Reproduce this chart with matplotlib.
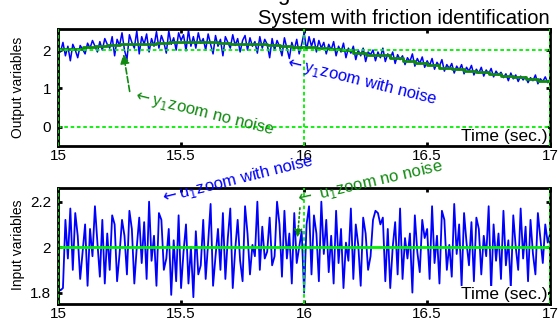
import numpy as np
import matplotlib
matplotlib.use("Agg")
import matplotlib.pyplot as plt

plt.rcParams['font.family'] = ['Liberation Sans', 'DejaVu Sans']

# noisy output y1 (sampled every 0.01 s from 15 to 17)
y_noise = [
    2.05, 1.95, 2.20, 1.85, 2.10, 1.72, 2.15, 2.00, 1.80, 2.12,
    2.02, 1.90, 2.18, 2.05, 2.25, 2.10, 1.95, 2.22, 2.00, 2.30,
    2.15, 2.05, 2.35, 1.85, 2.28, 2.12, 2.45, 2.00, 1.75, 2.40,
    2.20, 2.05, 2.50, 1.90, 2.35, 2.15, 2.42, 1.95, 2.30, 2.10,
    2.48, 2.05, 2.38, 2.20, 1.92, 2.50, 2.15, 2.32, 2.00, 2.45,
    2.25, 2.40, 1.98, 2.52, 2.10, 2.35, 2.05, 2.45, 2.18, 2.30,
    2.00, 2.42, 2.15, 1.90, 2.38, 2.10, 2.28, 1.85, 2.35, 2.20,
    2.05, 2.40, 2.12, 2.30, 1.95, 2.25, 2.38, 2.00, 2.32, 2.10,
    2.22, 1.92, 2.35, 2.05, 2.28, 2.15, 1.80, 2.30, 2.00, 2.25,
    2.10, 1.85, 2.32, 2.05, 1.78, 2.20, 2.00, 2.28, 1.90, 2.15,
    2.45, 2.00, 2.35, 2.10, 2.30, 1.95, 2.25, 2.05, 2.20, 1.90,
    2.15, 2.00, 2.22, 1.85, 2.10, 1.95, 2.18, 1.80, 2.05, 1.92,
    2.10, 1.75, 2.00, 1.85, 2.05, 1.70, 1.95, 1.88, 2.00, 1.72,
    1.95, 1.80, 2.05, 1.70, 1.90, 1.78, 1.95, 1.65, 1.88, 1.75,
    1.85, 1.62, 1.80, 1.70, 1.90, 1.58, 1.78, 1.65, 1.82, 1.55,
    1.72, 1.60, 1.78, 1.50, 1.68, 1.58, 1.75, 1.45, 1.62, 1.52,
    1.65, 1.40, 1.58, 1.48, 1.62, 1.38, 1.55, 1.45, 1.60, 1.35,
    1.50, 1.40, 1.55, 1.32, 1.48, 1.38, 1.52, 1.30, 1.45, 1.35,
    1.42, 1.28, 1.38, 1.20, 1.40, 1.25, 1.35, 1.18, 1.32, 1.22,
    1.30, 1.15, 1.28, 1.20, 1.35, 1.12, 1.25, 1.18, 1.30, 1.15,
    1.25,
]

# noise free output y1 (every 0.05 s)
y_clean = [
    2.02, 2.04, 2.08, 2.10, 2.14, 2.15, 2.15, 2.16, 2.18, 2.20,
    2.20, 2.20, 2.20, 2.18, 2.15, 2.15, 2.15, 2.13, 2.10, 2.08,
    2.08, 2.06, 2.04, 2.00, 1.93, 1.88, 1.86, 1.80, 1.72, 1.66,
    1.60, 1.54, 1.50, 1.45, 1.42, 1.38, 1.33, 1.30, 1.24, 1.20,
    1.16,
]

# noisy input u1
u_noise = [
    1.82, 1.81, 1.82, 2.12, 1.95, 2.17, 1.90, 2.15, 2.05, 1.86,
    1.98, 2.10, 1.83, 2.08, 1.96, 2.18, 2.02, 1.87, 2.12, 1.84,
    2.06, 1.90, 2.14, 2.10, 1.85, 1.97, 2.12, 2.05, 1.88, 2.16,
    2.08, 1.84, 2.00, 2.13, 1.93, 2.11, 1.86, 2.20, 1.94, 2.05,
    1.83, 2.15, 2.12, 1.90, 1.95, 2.08, 1.79, 2.03, 1.85, 2.14,
    1.82, 1.98, 2.10, 1.84, 2.00, 1.78, 2.07, 1.88, 1.92, 2.12,
    1.86, 2.02, 2.19, 1.83, 1.96, 2.08, 1.90, 2.15, 1.86, 2.04,
    2.17, 1.82, 1.99, 2.12, 1.94, 1.85, 2.18, 2.06, 1.88, 2.01,
    1.96, 2.20, 1.90, 2.09, 1.95, 1.98, 2.13, 1.92, 1.96, 2.20,
    2.10, 1.87, 2.16, 1.95, 2.06, 1.84, 2.15, 1.93, 2.00, 2.07,
    1.80, 2.10, 2.18, 1.88, 2.14, 2.06, 1.85, 2.20, 1.97, 2.12,
    1.89, 2.05, 1.84, 2.16, 1.93, 2.08, 1.82, 2.02, 1.94, 2.17,
    1.86, 2.10, 2.01, 1.83, 2.13, 2.06, 1.90, 1.96, 2.12, 2.16,
    2.15, 2.10, 2.13, 1.85, 2.08, 1.82, 2.00, 2.11, 1.88, 2.17,
    1.86, 2.04, 1.95, 2.06, 1.80, 2.14, 1.98, 1.89, 2.12, 2.04,
    2.08, 1.86, 2.18, 1.93, 2.05, 1.84, 2.16, 2.12, 1.90, 2.01,
    1.87, 2.19, 1.97, 2.10, 1.83, 2.15, 2.02, 1.92, 2.11, 1.85,
    2.13, 2.08, 1.88, 2.05, 1.96, 2.18, 1.81, 2.10, 1.94, 2.06,
    1.86, 2.16, 1.92, 2.03, 1.82, 2.14, 2.00, 1.90, 2.17, 1.95,
    2.09, 1.85, 2.12, 1.97, 1.88, 2.15, 2.04, 1.93, 2.10, 2.02,
    2.06,
]
u_clean = 2.0

t_noise = np.linspace(15, 17, len(y_noise))
t_clean = np.linspace(15, 17, len(y_clean))
t_u = np.linspace(15, 17, len(u_noise))

xticks = [15, 15.5, 16, 16.5, 17]
xlabels = ['15', '15.5', '16', '16.5', '17']

BLUE = '#0000ff'
DKGREEN = '#108a10'
LIME = '#00f000'

fig = plt.figure(figsize=(5.58, 3.22), dpi=100)
ax1 = fig.add_axes([0.104, 0.547, 0.882, 0.363])
ax2 = fig.add_axes([0.104, 0.056, 0.882, 0.360])


def style(ax):
    ax.set_xlim(15, 17)
    ax.set_xticks(xticks)
    ax.set_xticklabels(xlabels)
    ax.tick_params(direction='in', length=3, width=2, top=True, right=True,
                   labelsize=11)
    ax.tick_params(axis='x', pad=2.5)
    ax.tick_params(axis='y', pad=5)
    for s in ax.spines.values():
        s.set_linewidth(2)
    for xv in [15, 16, 17]:
        ax.axvline(xv, color=LIME, lw=1.3, ls=(0, (2, 1.5)), zorder=3)
    ax.text(0.995, 0.02, 'Time (sec.)', transform=ax.transAxes, ha='right',
            va='bottom', fontsize=12.5, zorder=5,
            bbox=dict(facecolor='white', edgecolor='none', pad=0.5))


# top: outputs
ax1.plot(t_noise, y_noise, color=BLUE, lw=1.1)
ax1.plot(t_clean, y_clean, color=DKGREEN, lw=2, drawstyle='steps-post')
ax1.axhline(2, color=LIME, lw=1.3, ls=(0, (2, 1.5)))
ax1.axhline(0, color=LIME, lw=1.3, ls=(0, (2, 1.5)))
ax1.set_ylim(-0.5, 2.55)
ax1.set_yticks([0, 1, 2])
style(ax1)
ax1.annotate('', xy=(15.264, 1.97), xytext=(15.293, 0.85),
             arrowprops=dict(arrowstyle='-|>', color=DKGREEN, lw=1.2,
                             ls='--', mutation_scale=14))
ax1.text(15.30, 0.82, r'$\leftarrow$y$_1$zoom no noise', color=DKGREEN,
         fontsize=12, rotation=-14, rotation_mode='anchor', ha='left', va='center')
ax1.text(15.92, 1.70, r'$\leftarrow$y$_1$zoom with noise', color=BLUE,
         fontsize=12, rotation=-14, rotation_mode='anchor', ha='left', va='center')

# bottom: inputs
ax2.plot(t_u, u_noise, color=BLUE, lw=1.3)
ax2.axhline(u_clean, color=LIME, lw=2)
ax2.set_ylim(1.75, 2.26)
ax2.set_yticks([1.8, 2.0, 2.2])
ax2.set_yticklabels(['1.8', '2', '2.2'])
style(ax2)
ax2.annotate('', xy=(15.972, 2.03), xytext=(15.984, 2.185),
             arrowprops=dict(arrowstyle='-|>', color=DKGREEN, lw=1.2,
                             ls=':', mutation_scale=12))
ax2.text(15.415, 2.213, r'$\leftarrow$u$_1$zoom with noise', color=BLUE,
         fontsize=12, rotation=14, rotation_mode='anchor', ha='left', va='center')
ax2.text(15.963, 2.21, r'$\leftarrow$ u$_1$zoom no noise', color=DKGREEN,
         fontsize=12, rotation=13, rotation_mode='anchor', ha='left', va='center')

fig.text(18 / 558, 1 - 87 / 322, 'Output variables', rotation=90,
         ha='center', va='center', fontsize=10)
fig.text(18 / 558, 1 - 245 / 322, 'Input variables', rotation=90,
         ha='center', va='center', fontsize=10)
fig.text(550 / 558, 1 - 18 / 322, 'System with friction identification',
         ha='right', va='center', fontsize=14.5)
fig.text(283 / 558, 1.0, 'g', ha='center', va='baseline', fontsize=16)

fig.savefig('out.png', dpi=100)
